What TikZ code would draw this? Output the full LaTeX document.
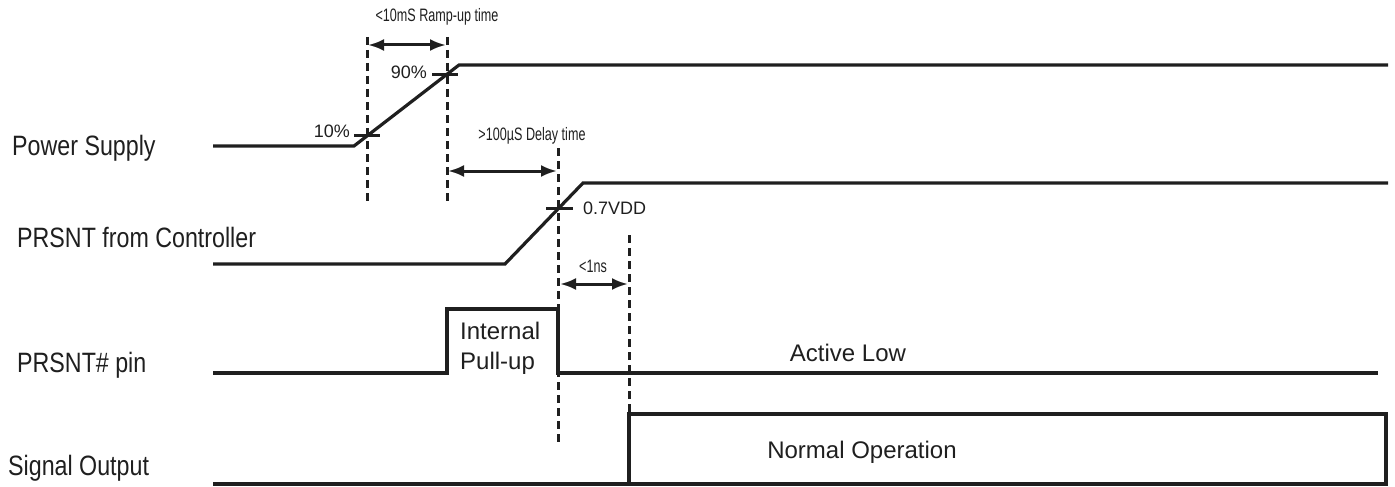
\documentclass[tikz,border=0pt]{standalone}
\usepackage{fontspec}
\setmainfont{Liberation Sans}
\newfontfamily\narrowfont[FakeStretch=0.83]{Liberation Sans}
\newfontfamily\condfont[FakeStretch=0.7]{Liberation Sans}
\usetikzlibrary{arrows.meta}
\begin{document}
\begin{tikzpicture}[x=1pt,y=-1pt,
  wave/.style={line width=3.2pt,line join=miter,color=black!88},
  guide/.style={line width=3pt,dash pattern=on 8pt off 5pt,color=black!88},
  tick/.style={line width=3pt,color=black!88},
  span/.style={line width=3pt,color=black!88,{Latex[length=16pt,width=12pt]}-{Latex[length=16pt,width=12pt]}},
  siglabel/.style={font=\narrowfont\fontsize{28}{30}\selectfont,anchor=west,inner sep=0pt,text=black!88},
  smalllabel/.style={font=\condfont\fontsize{18}{20}\selectfont,inner sep=0pt,text=black!88},
  pctlabel/.style={font=\fontsize{18}{20}\selectfont,inner sep=0pt,text=black!88},
  boxlabel/.style={font=\fontsize{24}{30}\selectfont,inner sep=0pt,text=black!88}]
\useasboundingbox (0,0) rectangle (1395,487);

% signal names
\node[siglabel] (lps) at (12,148) {Power Supply};
\node[siglabel] (lprc) at (17,237) {PRSNT from Controller};
\node[siglabel] (lpin) at (17,365) {PRSNT\# pin};
\node[siglabel] (lout) at (8,468) {Signal Output};

% power supply waveform
\coordinate (ps0) at (213,146);
\coordinate (ps1) at (354,146);
\coordinate (ps2) at (459,65);
\coordinate (ps3) at (1388,65);
\draw[wave] (ps0) -- (ps1) -- (ps2) -- (ps3);

% PRSNT from controller waveform
\coordinate (pc0) at (213,264);
\coordinate (pc1) at (505,264);
\coordinate (pc2) at (583,183);
\coordinate (pc3) at (1388,183);
\draw[wave] (pc0) -- (pc1) -- (pc2) -- (pc3);

% PRSNT# pin waveform
\coordinate (pp0) at (213,373);
\coordinate (pp1) at (447,373);
\coordinate (pp2) at (447,309);
\coordinate (pp3) at (558,309);
\coordinate (pp4) at (558,373);
\coordinate (pp5) at (1378,373);
\draw[wave] (pp0) -- (pp1) -- (pp2) -- (pp3) -- (pp4) -- (pp5);

% signal output waveform
\coordinate (so0) at (213,484);
\coordinate (so1) at (1388,484);
\coordinate (sb0) at (629,484);
\coordinate (sb1) at (629,414);
\coordinate (sb2) at (1386,414);
\coordinate (sb3) at (1386,484);
\draw[wave] (so0) -- (so1);
\draw[wave] (sb0) -- (sb1) -- (sb2) -- (sb3);

% guide lines
\coordinate (g1t) at (367,37);  \coordinate (g1b) at (367,205);
\coordinate (g2t) at (447,37);  \coordinate (g2b) at (447,205);
\coordinate (g3t) at (558,148); \coordinate (g3b) at (558,443);
\coordinate (g4t) at (629,235); \coordinate (g4b) at (629,414);
\draw[guide] (g1t) -- (g1b);
\draw[guide] (g2t) -- (g2b);
\draw[guide] (g3t) -- (g3b);
\draw[guide] (g4t) -- (g4b);

% threshold ticks
\coordinate (t1a) at (354,135); \coordinate (t1b) at (380,135);
\coordinate (t2a) at (432,75);  \coordinate (t2b) at (458,75);
\coordinate (t3a) at (546,208); \coordinate (t3b) at (573,208);
\draw[tick] (t1a) -- (t1b);
\draw[tick] (t2a) -- (t2b);
\draw[tick] (t3a) -- (t3b);
\node[pctlabel,anchor=east] (p10) at (350,131) {10\%};
\node[pctlabel,anchor=east] (p90) at (427,72) {90\%};
\node[pctlabel,anchor=west] (p07) at (583,208) {0.7VDD};

% timing spans
\coordinate (a1l) at (368,45);  \coordinate (a1r) at (446,45);
\coordinate (a2l) at (448,171); \coordinate (a2r) at (557,171);
\coordinate (a3l) at (560,284); \coordinate (a3r) at (628,284);
\draw[span] (a1l) -- (a1r);
\draw[span] (a2l) -- (a2r);
\draw[span] (a3l) -- (a3r);
\node[smalllabel] (ramp) at (437,17) {<10mS Ramp-up time};
\node[smalllabel] (delay) at (532,136) {>100µS Delay time};
\node[smalllabel] (ns) at (593,266) {<1ns};

% box texts
\node[boxlabel,anchor=west,align=left] (pull) at (460,348) {Internal\\Pull-up};
\node[boxlabel] (act) at (848,353) {Active Low};
\node[boxlabel] (norm) at (862,452) {Normal Operation};
\end{tikzpicture}
\end{document}
